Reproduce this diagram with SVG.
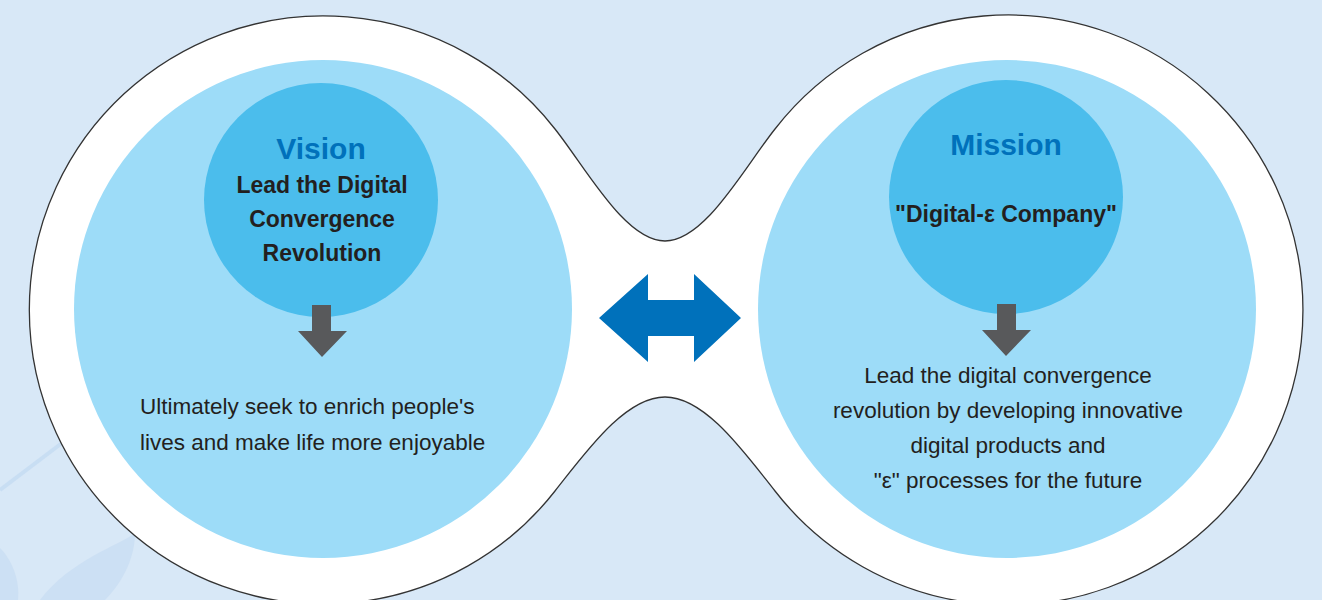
<svg xmlns="http://www.w3.org/2000/svg" width="1322" height="600" viewBox="0 0 1322 600">
<style>
.t{font-family:"Liberation Sans",Arial,sans-serif;fill:#231f20}
.h{font-family:"Liberation Sans",Arial,sans-serif;fill:#0071bb;font-size:30px;font-weight:bold;text-anchor:middle}
.b{font-weight:bold;font-size:23px;text-anchor:middle}
.r{font-size:22.5px}
.c{text-anchor:middle}
.inner{fill:#9ddcf8}
.core{fill:#4bbdec}
.gray{fill:#58595b}
</style>
<rect width="1322" height="600" fill="#d8e8f7"/>
<g id="leaves" fill="#c4daf2" opacity="0.55">
<path d="M0,490 L62,443" stroke="#bcd5f0" stroke-width="4" fill="none"/>
<path d="M135,533 C120,545 70,560 40,600 L105,600 C125,580 135,555 135,533 Z"/>
<path d="M0,548 C12,560 20,580 18,600 L0,600 Z"/>
</g>
<path id="frame" d="M555,129 C586,168 625,241 665,241 C705,241 744,168 775,129 A295,295 0 1 1 775,491 C744,452 705,397 665,397 C625,397 586,452 555,491 A294,294 0 1 1 555,129 Z" fill="#ffffff" stroke="#333333" stroke-width="1.3"/>
<g id="vision">
<circle class="inner" cx="323" cy="309" r="249"/>
<circle class="core" cx="321" cy="200" r="117"/>
<text class="h" x="321" y="159">Vision</text>
<text class="t b" x="322" y="193">Lead the Digital</text>
<text class="t b" x="322" y="227">Convergence</text>
<text class="t b" x="322" y="261">Revolution</text>
</g>
<g id="vision-detail">
<text class="t r" x="140" y="414">Ultimately seek to enrich people's</text>
<text class="t r" x="140" y="450">lives and make life more enjoyable</text>
</g>
<g id="mission">
<circle class="inner" cx="1007" cy="309" r="249"/>
<circle class="core" cx="1006" cy="197" r="117"/>
<text class="h" x="1006" y="155">Mission</text>
<text class="t b" x="1006" y="222">"Digital-ε Company"</text>
</g>
<g id="mission-detail">
<text class="t r c" x="1008" y="383">Lead the digital convergence</text>
<text class="t r c" x="1008" y="418">revolution by developing innovative</text>
<text class="t r c" x="1008" y="453">digital products and</text>
<text class="t r c" x="1008" y="488">"ε" processes for the future</text>
</g>
<g id="connectors">
<path class="gray" d="M312,305 H331 V331 H347 L322,357 L298,331 H312 Z"/>
<path class="gray" d="M997,304 H1016 V330 H1031 L1006,356 L982,330 H997 Z"/>
<path d="M599,318 L648,274 V300 H694 V274 L741,318 L694,362 V336 H648 V362 Z" fill="#0071bb"/>
</g>
</svg>
